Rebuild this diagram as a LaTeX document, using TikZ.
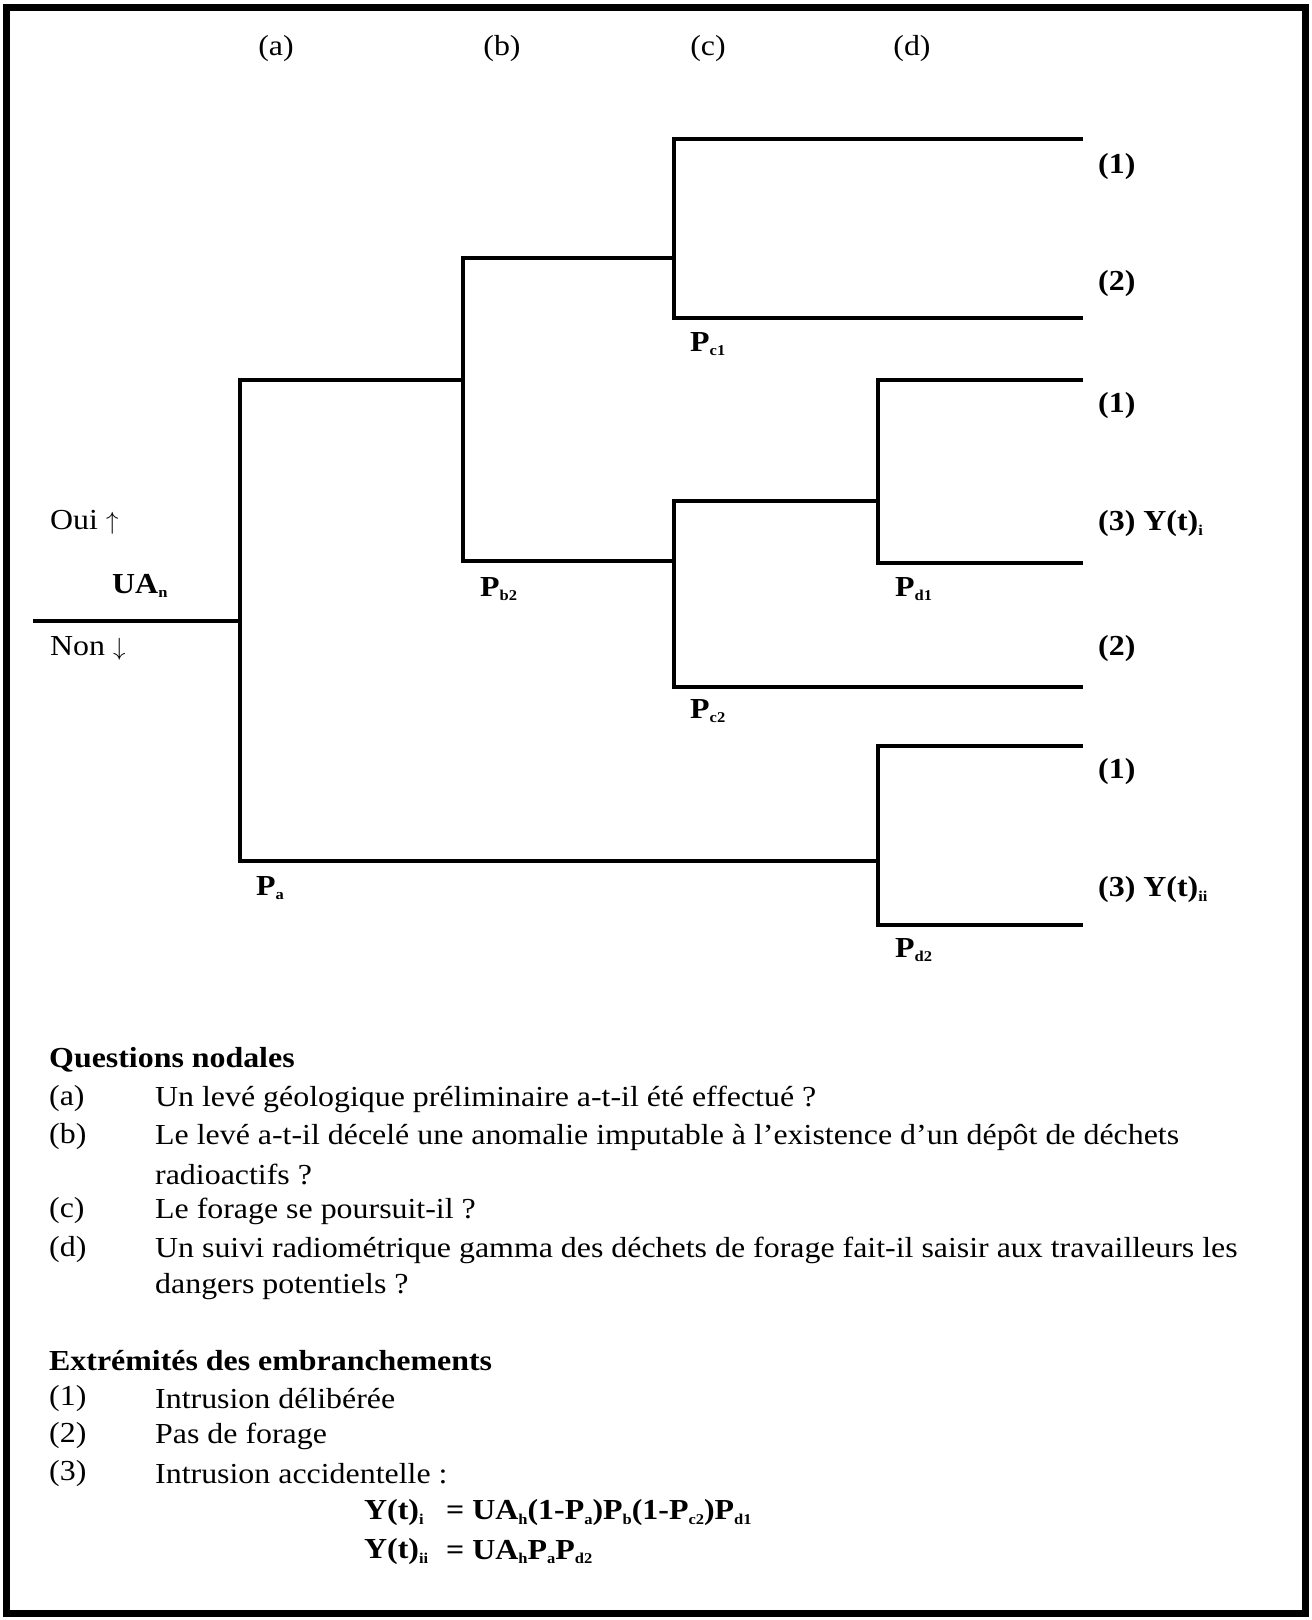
\documentclass[tikz,border=0pt]{standalone}
\usepackage{fontspec}
\setmainfont{Liberation Serif}[FakeStretch=1.1]

\newcommand{\fs}{\fontsize{29}{35}\selectfont}
\newcommand{\sbs}[1]{\raisebox{-0.35ex}{\fontsize{15}{15}\selectfont #1}}
\tikzset{
  branch/.style={line width=4.2pt},
  endlbl/.style={anchor=west,inner sep=0pt,font=\fs\bfseries},
  plbl/.style={anchor=west,inner sep=0pt,font=\fs\bfseries},
  txt/.style={anchor=west,inner sep=0pt},
  btxt/.style={anchor=west,inner sep=0pt,font=\fs\bfseries},
}

\begin{document}
\begin{tikzpicture}[x=1pt,y=-1pt,font=\fs]
    \useasboundingbox (0,0) rectangle (1312,1620);
    \draw[line width=7pt] (6,7) rectangle (1305,1613);

    % branch points of the tree
    \coordinate (root) at (33,621);
    \coordinate (na) at (240,621);
    \coordinate (nb) at (463,380);
    \coordinate (nc1) at (674,258);
    \coordinate (nc2) at (674,561);
    \coordinate (nd1) at (878,501);
    \coordinate (nd2) at (878,861);
    \coordinate (e1) at (1083,139);
    \coordinate (e2) at (1083,318);
    \coordinate (e3) at (1083,380);
    \coordinate (e4) at (1083,563);
    \coordinate (e5) at (1083,687);
    \coordinate (e6) at (1083,746);
    \coordinate (e7) at (1083,925);

    \draw[branch] (root) -- (na);
    \draw[branch] (na) |- (nb);
    \draw[branch] (na) |- (nd2);
    \draw[branch] (nb) |- (nc1);
    \draw[branch] (nb) |- (nc2);
    \draw[branch] (nc1) |- (e1);
    \draw[branch] (nc1) |- (e2);
    \draw[branch] (nc2) |- (nd1);
    \draw[branch] (nc2) |- (e5);
    \draw[branch] (nd1) |- (e3);
    \draw[branch] (nd1) |- (e4);
    \draw[branch] (nd2) |- (e6);
    \draw[branch] (nd2) |- (e7);

    % column heads
    \node (qa) at (276,49) {(a)};
    \node (qb) at (502,49) {(b)};
    \node (qc) at (708,49) {(c)};
    \node (qd) at (912,49) {(d)};

    % root labels
    \node[txt] (oui) at (50,522) {Oui $\uparrow$};
    \node[btxt] (ua) at (112,586) {UA\sbs{n}};
    \node[txt] (non) at (50,648) {Non $\downarrow$};

    % probabilities
    \node[plbl] (pc1) at (690,344) {P\sbs{c1}};
    \node[plbl] (pb2) at (480,589) {P\sbs{b2}};
    \node[plbl] (pd1) at (895,589) {P\sbs{d1}};
    \node[plbl] (pc2) at (690,711) {P\sbs{c2}};
    \node[plbl] (pa) at (256,888) {P\sbs{a}};
    \node[plbl] (pd2) at (895,950) {P\sbs{d2}};

    % ends of branches
    \node[endlbl] (t1) at (1098,167) {(1)};
    \node[endlbl] (t2) at (1098,284) {(2)};
    \node[endlbl] (t3) at (1098,406) {(1)};
    \node[endlbl] (t4) at (1098,524) {(3) Y(t)\sbs{i}};
    \node[endlbl] (t5) at (1098,649) {(2)};
    \node[endlbl] (t6) at (1098,772) {(1)};
    \node[endlbl] (t7) at (1098,890) {(3) Y(t)\sbs{ii}};

    % legend
    \node[btxt] (qhead) at (49,1060) {Questions nodales};
    \node[txt] (la) at (49,1099) {(a)};
    \node[txt] (ta) at (155,1099) {Un levé géologique préliminaire a-t-il été effectué ?};
    \node[txt] (lb) at (49,1137) {(b)};
    \node[txt] (tb) at (155,1137) {Le levé a-t-il décelé une anomalie imputable à l’existence d’un dépôt de déchets};
    \node[txt] (tb2) at (155,1174) {radioactifs ?};
    \node[txt] (lc) at (49,1211) {(c)};
    \node[txt] (tc) at (155,1211) {Le forage se poursuit-il ?};
    \node[txt] (ld) at (49,1250) {(d)};
    \node[txt] (td) at (155,1250) {Un suivi radiométrique gamma des déchets de forage fait-il saisir aux travailleurs les};
    \node[txt] (td2) at (155,1287) {dangers potentiels ?};

    \node[btxt] (ehead) at (49,1361) {Extrémités des embranchements};
    \node[txt] (l1) at (49,1399) {(1)};
    \node[txt] (x1) at (155,1399) {Intrusion délibérée};
    \node[txt] (l2) at (49,1436) {(2)};
    \node[txt] (x2) at (155,1436) {Pas de forage};
    \node[txt] (l3) at (49,1474) {(3)};
    \node[txt] (x3) at (155,1474) {Intrusion accidentelle :};

    \node[btxt] (y1) at (364,1513) {Y(t)\sbs{i}};
    \node[btxt] (f1) at (446,1513) {= UA\sbs{h}(1-P\sbs{a})P\sbs{b}(1-P\sbs{c2})P\sbs{d1}};
    \node[btxt] (y2) at (364,1552) {Y(t)\sbs{ii}};
    \node[btxt] (f2) at (446,1552) {= UA\sbs{h}P\sbs{a}P\sbs{d2}};
  \end{tikzpicture}
\end{document}
